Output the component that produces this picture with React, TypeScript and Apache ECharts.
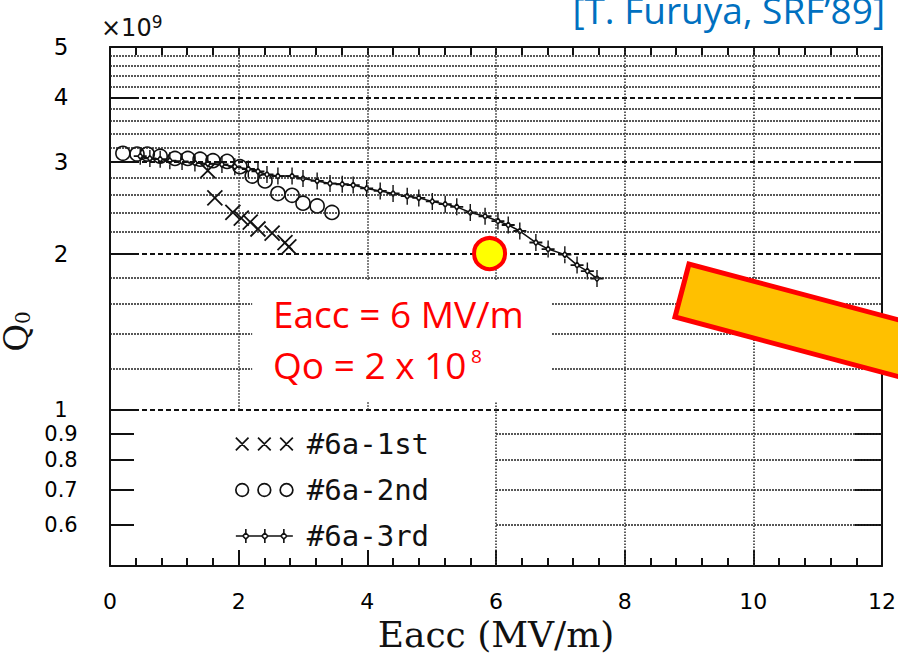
import React, { useEffect, useRef } from "react";
import * as echarts from "echarts";

// ---------- data ----------
const xTickValues = [0, 2, 4, 6, 8, 10, 12];
const yLabelValues = [0.6, 0.7, 0.8, 0.9, 1, 2, 3, 4, 5];
const yTickValues = [0.6, 0.7, 0.8, 0.9, 1, 2, 3, 4];

// Eacc (MV/m), Q0 (x1e9)
const run1st: [number, number][] = [
  [1.52, 2.89], [1.63, 2.56], [1.91, 2.4], [2.04, 2.34], [2.18, 2.3],
  [2.3, 2.23], [2.52, 2.19], [2.72, 2.1], [2.78, 2.06],
];
const run2nd: [number, number][] = [
  [0.2, 3.12], [0.42, 3.11], [0.58, 3.11], [0.78, 3.08], [1.01, 3.05],
  [1.21, 3.05], [1.4, 3.04], [1.6, 3.02], [1.82, 3.01], [2.02, 2.94],
  [2.21, 2.82], [2.41, 2.76], [2.61, 2.61], [2.83, 2.59], [3.0, 2.5],
  [3.22, 2.47], [3.45, 2.4],
];
const run3rd: [number, number][] = [
  [0.47, 3.08], [0.62, 3.05], [0.78, 3.04], [0.93, 3.02], [1.12, 3.01],
  [1.32, 2.99], [1.52, 2.98], [1.74, 2.97], [1.94, 2.94], [2.15, 2.91],
  [2.3, 2.88], [2.44, 2.84], [2.61, 2.82], [2.83, 2.82], [3.0, 2.79],
  [3.22, 2.76], [3.42, 2.73], [3.61, 2.72], [3.78, 2.71], [3.99, 2.67],
  [4.2, 2.64], [4.4, 2.61], [4.62, 2.58], [4.8, 2.56], [5.01, 2.52],
  [5.21, 2.49], [5.39, 2.46], [5.6, 2.4], [5.83, 2.36], [6.03, 2.31],
  [6.19, 2.27], [6.37, 2.21], [6.62, 2.1], [6.81, 2.04], [7.07, 1.99],
  [7.26, 1.9], [7.42, 1.85], [7.57, 1.79],
];
const targetPoint: [number, number][] = [[5.9, 2.0]];

const seriesNames = ["#6a-1st", "#6a-2nd", "#6a-3rd"];

// grid lines of the original plot paper
const dashedGridValues = [1, 2, 3, 4];
const fineGridValues = [
  0.6, 0.7, 0.8, 0.9, 1.2, 1.4, 1.6, 1.8, 2.2, 2.4, 2.6, 2.8,
  3.2, 3.4, 3.6, 3.8, 4.2, 4.4, 4.6, 4.8,
];
const verticalGridValues = [2, 4, 6, 8, 10];

// ---------- layout constants (annotation boxes that hide the grid) ----------
const X_MIN = 0, X_MAX = 12, Y_MIN = 0.5, Y_MAX = 5;
const noteBoxE = [2.21, 6.87];
const noteBoxQ = [1.04, 1.78];
const legendBoxE = [0.37, 5.99];

const ICON_X = "path://M0,0L10,10M10,0L0,10";
const ICON_PLUS_DIAMOND =
  "path://M0,7L4.5,7M9.5,7L14,7M7,0L7,4.5M7,9.5L7,14M7,4.5L9.5,7L7,9.5L4.5,7Z";
const LEG_X3 =
  "path://M0,0L12,12M12,0L0,12M21,0L33,12M33,0L21,12M42,0L54,12M54,0L42,12";
const LEG_O3 =
  "path://M0,6A6,6,0,1,0,12,6A6,6,0,1,0,0,6ZM21,6A6,6,0,1,0,33,6A6,6,0,1,0,21,6ZM42,6A6,6,0,1,0,54,6A6,6,0,1,0,42,6Z";
const LEG_P3 =
  "path://M0,7L7,7M13,7L26,7M32,7L45,7M51,7L57,7" +
  "M10,0L10,4M10,10L10,14M29,0L29,4M29,10L29,14M48,0L48,4M48,10L48,14" +
  "M10,4L13,7L10,10L7,7ZM29,4L32,7L29,10L26,7ZM48,4L51,7L48,10L45,7Z";

function hSegments(v: number): [number, number][] {
  if (v < 1) return [[legendBoxE[1] + 0.01, X_MAX]];
  if (v >= noteBoxQ[0] && v <= noteBoxQ[1])
    return [[X_MIN, noteBoxE[0]], [noteBoxE[1], X_MAX]];
  return [[X_MIN, X_MAX]];
}
function vSegments(e: number): [number, number][] {
  const lo = e >= legendBoxE[0] && e <= legendBoxE[1] ? 1 : Y_MIN;
  if (e >= noteBoxE[0] && e <= noteBoxE[1])
    return [[lo, noteBoxQ[0]], [noteBoxQ[1], Y_MAX]];
  return [[lo, Y_MAX]];
}

function buildOption() {
  const fineLines: any[] = [];
  fineGridValues.forEach((v) =>
    hSegments(v).forEach(([a, b]) => fineLines.push([{ coord: [a, v] }, { coord: [b, v] }]))
  );
  const dashedLines = dashedGridValues.map((v) => [{ coord: [X_MIN, v] }, { coord: [X_MAX, v] }]);
  const vLines: any[] = [];
  verticalGridValues.forEach((e) =>
    vSegments(e).forEach(([a, b]) => vLines.push([{ coord: [e, a] }, { coord: [e, b] }]))
  );

  const markBase = {
    silent: true,
    symbol: ["none", "none"],
    label: { show: false },
    animation: false,
  };

  const axisLineStyle = { color: "#111", width: 2 };
  const labelFmt = (v: number) => {
    const n = Number(Number(v).toPrecision(3));
    return n >= 2 ? `{b|${n}}` : `{s|${n}}`;
  };

  return {
    animation: false,
    backgroundColor: "#ffffff",
    grid: { left: 110, top: 47, right: 16, bottom: 88, containLabel: false, outerBoundsMode: "none" },
    legend: {
      orient: "vertical",
      left: 230,
      top: 424,
      itemWidth: 57,
      itemHeight: 14,
      itemGap: 16,
      selectedMode: false,
      textStyle: {
        fontFamily: "DejaVu Sans Mono",
        fontSize: 29,
        lineHeight: 30,
        color: "#111",
        padding: [0, 0, 0, 9],
      },
      data: [
        { name: seriesNames[0], icon: LEG_X3, itemStyle: { color: "#111", borderColor: "#111", borderWidth: 1.7 } },
        { name: seriesNames[1], icon: LEG_O3, itemStyle: { color: "#fff", borderColor: "#111", borderWidth: 1.7 } },
        { name: seriesNames[2], icon: LEG_P3, itemStyle: { color: "#fff", borderColor: "#111", borderWidth: 1.6 } },
      ],
    },
    xAxis: [
      {
        type: "value",
        min: X_MIN,
        max: X_MAX,
        interval: 2,
        position: "bottom",
        name: "Eacc (MV/m)",
        nameLocation: "middle",
        nameGap: 49,
        nameTextStyle: { fontFamily: "DejaVu Serif", fontSize: 36, color: "#111" },
        axisLine: { show: true, onZero: false, lineStyle: axisLineStyle },
        axisTick: { show: true, inside: true, length: 16, lineStyle: { color: "#111", width: 2 } },
        minorTick: { show: true, splitNumber: 5, length: 8, lineStyle: { color: "#111", width: 2 } },
        axisLabel: {
          show: true,
          margin: 24,
          fontFamily: "DejaVu Sans",
          fontSize: 22,
          color: "#000",
          customValues: xTickValues,
        },
        splitLine: { show: false },
      },
      {
        type: "value",
        min: X_MIN,
        max: X_MAX,
        interval: 2,
        position: "top",
        axisLine: { show: true, onZero: false, lineStyle: axisLineStyle },
        axisTick: { show: true, inside: true, length: 8, lineStyle: { color: "#111", width: 2 } },
        minorTick: { show: true, splitNumber: 5, length: 8, lineStyle: { color: "#111", width: 2 } },
        axisLabel: { show: false },
        splitLine: { show: false },
      },
    ],
    yAxis: [
      {
        type: "log",
        logBase: 10,
        min: Y_MIN,
        max: Y_MAX,
        position: "left",
        name: "{q|Q}{s|0}",
        nameLocation: "middle",
        nameGap: 68,
        nameTextStyle: {
          padding: [0, 50, 0, 0],
          rich: {
            q: { fontFamily: "DejaVu Serif", fontSize: 34, color: "#111", lineHeight: 34 },
            s: { fontFamily: "DejaVu Serif", fontSize: 20, color: "#111", lineHeight: 22, verticalAlign: "bottom" },
          },
        },
        axisLine: { show: true, onZero: false, lineStyle: axisLineStyle },
        axisTick: {
          show: true,
          inside: true,
          length: 24,
          customValues: yTickValues,
          lineStyle: { color: "#111", width: 2 },
        },
        minorTick: { show: false },
        axisLabel: {
          show: true,
          customValues: yLabelValues,
          formatter: labelFmt,
          align: "center",
          margin: 49,
          rich: {
            b: { fontFamily: "DejaVu Sans", fontSize: 23, color: "#000" },
            s: { fontFamily: "DejaVu Sans", fontSize: 21, color: "#000" },
          },
        },
        splitLine: { show: false },
      },
      {
        type: "log",
        logBase: 10,
        min: Y_MIN,
        max: Y_MAX,
        position: "right",
        axisLine: { show: true, onZero: false, lineStyle: axisLineStyle },
        axisTick: {
          show: true,
          inside: true,
          length: 27,
          customValues: yTickValues,
          lineStyle: { color: "#111", width: 2 },
        },
        axisLabel: { show: false },
        splitLine: { show: false },
      },
    ],
    series: [
      {
        name: "grid-fine",
        type: "line",
        data: [],
        z: 1,
        markLine: { ...markBase, lineStyle: { color: "#222", width: 1.5, type: [2, 1] }, data: fineLines },
      },
      {
        name: "grid-dashed",
        type: "line",
        data: [],
        z: 1,
        markLine: { ...markBase, lineStyle: { color: "#111", width: 2, type: [5, 3] }, data: dashedLines },
      },
      {
        name: "grid-vertical",
        type: "line",
        data: [],
        z: 1,
        markLine: { ...markBase, lineStyle: { color: "#333", width: 1.6, type: [1.5, 1.5] }, data: vLines },
      },
      {
        name: seriesNames[0],
        type: "scatter",
        z: 4,
        data: run1st,
        symbol: ICON_X,
        symbolSize: 15,
        itemStyle: { color: "#111", borderColor: "#111", borderWidth: 1.8, opacity: 1 },
      },
      {
        name: seriesNames[1],
        type: "scatter",
        z: 4,
        data: run2nd,
        symbol: "circle",
        symbolSize: 14,
        itemStyle: { color: "rgba(255,255,255,0)", borderColor: "#111", borderWidth: 1.6, opacity: 1 },
      },
      {
        name: seriesNames[2],
        type: "line",
        z: 4,
        data: run3rd,
        symbol: ICON_PLUS_DIAMOND,
        symbolSize: [13, 17],
        showSymbol: true,
        lineStyle: { color: "#111", width: 1.5 },
        itemStyle: { color: "#fff", borderColor: "#111", borderWidth: 1.6 },
      },
      {
        name: "Eacc = 6 MV/m, Qo = 2e8",
        type: "scatter",
        z: 6,
        data: targetPoint,
        symbol: "circle",
        symbolSize: 31,
        itemStyle: { color: "#FFFF00", borderColor: "#FF0000", borderWidth: 4, opacity: 1 },
      },
    ],
    graphic: [
      {
        type: "text",
        x: 101,
        y: 13,
        z: 100,
        style: {
          text: "{a|×10}{b|9}",
          verticalAlign: "top",
          align: "left",
          rich: {
            a: { fontFamily: "DejaVu Sans", fontSize: 24, lineHeight: 30, fill: "#111" },
            b: { fontFamily: "DejaVu Sans", fontSize: 17, lineHeight: 16, verticalAlign: "top", fill: "#111" },
          },
        },
      },
      {
        type: "text",
        x: 885,
        y: 9,
        z: 100,
        style: {
          text: "[T. Furuya, SRF\u201989]",
          fill: "#0070C0",
          fontFamily: "Open Sans",
          fontSize: 37,
          align: "right",
          verticalAlign: "middle",
        },
      },
      {
        type: "text",
        x: 273,
        y: 288,
        z: 100,
        style: {
          text: "Eacc = 6 MV/m\nQo = 2 x 10",
          align: "left",
          verticalAlign: "top",
          fill: "#FF0000",
          fontFamily: "Open Sans",
          fontSize: 37,
          lineHeight: 51,
        },
      },
      {
        type: "text",
        x: 471,
        y: 356,
        z: 100,
        style: {
          text: "8",
          align: "left",
          verticalAlign: "middle",
          fill: "#FF0000",
          fontFamily: "Open Sans",
          fontSize: 19,
        },
      },
      {
        type: "polygon",
        z: 100,
        shape: { points: [[689, 264], [675, 317], [1061, 420], [1075, 367]] },
        style: { fill: "#FFC000", stroke: "#FF0000", lineWidth: 5 },
      },
    ],
  };
}

export default function App() {
  const ref = useRef<HTMLDivElement>(null);
  useEffect(() => {
    document.body.style.margin = "0";
    if (!ref.current) return;
    const chart = echarts.init(ref.current, null, { renderer: "svg" });
    chart.setOption(buildOption() as any);
    return () => chart.dispose();
  }, []);
  return <div ref={ref} style={{ width: 898, height: 654 }} />;
}
